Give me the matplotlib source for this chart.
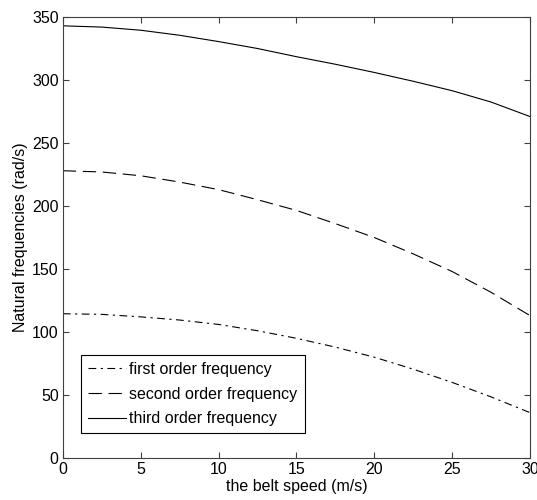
import numpy as np
import matplotlib
matplotlib.use("Agg")
import matplotlib.pyplot as plt

plt.rcParams['font.family'] = ['Liberation Sans', 'DejaVu Sans']

# belt speed (m/s)
speed = [0, 2.5, 5, 7.5, 10, 12.5, 15, 17.5, 20, 22.5, 25, 27.5, 30]

# natural frequencies (rad/s)
first_order = [114.5, 114, 112, 109.5, 106, 101, 95, 88, 80, 70.5, 60, 48.5, 36]
second_order = [228, 227, 224, 219, 213, 205, 196.5, 186, 175, 162, 148, 131.5, 113]
third_order = [343, 342, 339.5, 335.5, 330.5, 325, 318.5, 312.5, 306, 299, 291.5, 282.5, 271]

fig = plt.figure(figsize=(5.37, 5.0), dpi=100)
ax = fig.add_axes([0.117, 0.084, 0.870, 0.882])

ax.plot(speed, first_order, color='k', lw=0.8, dashes=(7, 4, 2, 4),
        label='first order frequency')
ax.plot(speed, second_order, color='k', lw=0.8, dashes=(12, 6),
        label='second order frequency')
ax.plot(speed, third_order, color='k', lw=0.8, label='third order frequency')

ax.set_xlim(0, 30)
ax.set_ylim(0, 350)
ax.set_xticks(range(0, 31, 5))
ax.set_yticks(range(0, 351, 50))
ax.tick_params(direction='in', top=True, right=True, labelsize=11.5,
               length=4, color='#404040', pad=3)
for s in ax.spines.values():
    s.set_color('#404040')
    s.set_linewidth(0.8)

ax.set_xlabel('the belt speed (m/s)', fontsize=11.5, labelpad=1)
ax.set_ylabel('Natural frequencies (rad/s)', fontsize=11.5, labelpad=3)

leg = ax.legend(loc='lower left', bbox_to_anchor=(0.038, 0.056), fontsize=11.5,
                fancybox=False, edgecolor='k', framealpha=1,
                handlelength=2.4, handletextpad=0.2, borderpad=0.45,
                labelspacing=0.6, borderaxespad=0)
leg.get_frame().set_linewidth(0.8)

fig.savefig('out.png', dpi=100)
